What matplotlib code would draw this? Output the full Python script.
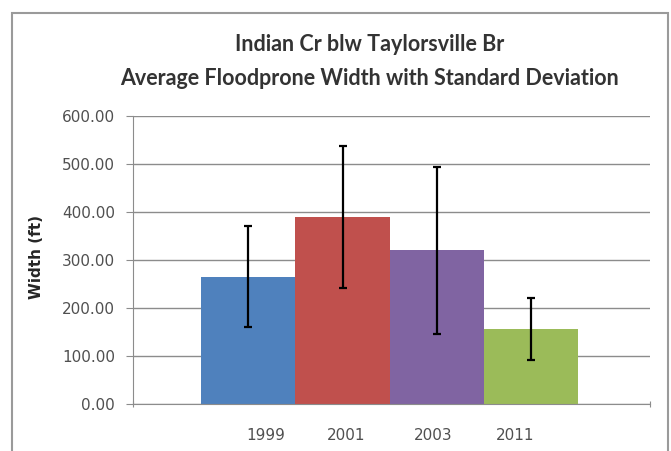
import matplotlib
matplotlib.use("Agg")
import matplotlib.pyplot as plt
from matplotlib.patches import Rectangle

years = ["1999", "2001", "2003", "2011"]
means = [265, 390, 320, 156]
std_devs = [105, 148, 174, 64]
colors = ["#4F81BD", "#C0504D", "#8064A2", "#9BBB59"]
label_offsets = [0.18, 0.04, -0.04, -0.17]
yticks = [0, 100, 200, 300, 400, 500, 600]

fig = plt.figure(figsize=(6.71, 4.51), dpi=100)
fig.patch.set_facecolor("white")
fig.patches.append(Rectangle((12/671, -2/451), 656/671, 440/451, transform=fig.transFigure,
                             fill=False, edgecolor="#9a9a9a", linewidth=1.5))

ax = fig.add_axes([133/671, 1-404/451, 517/671, 288/451])
pos = list(range(len(years)))
ax.bar(pos, means, width=1.0, color=colors, zorder=2)
ax.errorbar(pos, means, yerr=std_devs, fmt="none", ecolor="black", elinewidth=1.6,
            capsize=3, capthick=1.6, zorder=3)

ax.set_xlim(-1.224, 4.264)
ax.set_ylim(0, 600)
ax.set_yticks(yticks)
ax.set_yticklabels([f"{v:.2f}" for v in yticks], fontsize=11, color="#505050", family="DejaVu Sans")
ax.yaxis.grid(True, color="#8c8c8c", linewidth=1.0, zorder=0)
ax.set_axisbelow(True)
ax.tick_params(axis="y", length=5, color="#8c8c8c", pad=8)
ax.set_xticks([-1.224, 4.264])
ax.set_xticklabels(["", ""])
ax.tick_params(axis="x", length=4, color="#8c8c8c", direction="inout")
for s in ["top", "right"]:
    ax.spines[s].set_visible(False)
ax.spines["left"].set_color("#8c8c8c")
ax.spines["bottom"].set_color("#8c8c8c")

for p, yr, off in zip(pos, years, label_offsets):
    ax.text(p + off, -50, yr, ha="center", va="top", fontsize=11, color="#505050", family="DejaVu Sans")

ax.set_ylabel("Width (ft)", fontsize=11, fontweight="bold", family="DejaVu Sans", color="#262626")
ax.yaxis.set_label_coords((44-133)/517, 0.51)

fig.text(370/671, 1-51/451, "Indian Cr blw Taylorsville Br", ha="center", va="baseline",
         fontsize=15.5, fontweight="bold", family="Lato", color="#333333")
fig.text(370/671, 1-85/451, "Average Floodprone Width with Standard Deviation", ha="center", va="baseline",
         fontsize=15.5, fontweight="bold", family="Lato", color="#333333")

fig.savefig("out.png", dpi=100)
